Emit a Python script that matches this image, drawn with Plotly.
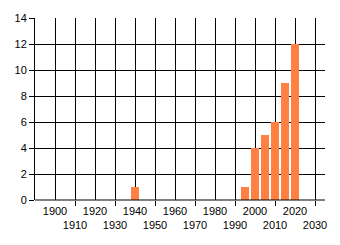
import plotly.graph_objects as go

years = [1940, 1995, 2000, 2005, 2010, 2015, 2020]
counts = [1, 1, 4, 5, 6, 9, 12]
x_tick_vals = list(range(1900, 2031, 10))
x_tick_text = [str(v) if i % 2 == 0 else "<br>" + str(v) for i, v in enumerate(x_tick_vals)]
y_tick_vals = list(range(0, 15, 2))

fig = go.Figure(go.Bar(x=years, y=counts, width=4, marker=dict(color="#FF8040", line=dict(width=0))))

font = dict(family="Liberation Sans, Arial, sans-serif", size=11, color="#000000")
fig.update_layout(
    width=340, height=245,
    margin=dict(l=35, r=15, t=15, b=45),
    paper_bgcolor="white", plot_bgcolor="white",
    font=font, showlegend=False, bargap=0,
)
fig.update_xaxes(
    range=[1890, 2035], tickmode="array", tickvals=x_tick_vals, ticktext=x_tick_text,
    tickangle=0,
    showgrid=True, gridcolor="black", gridwidth=1, zeroline=False,
    showline=False, ticks="", ticklabelstandoff=3,
    minor=dict(tickmode="array", tickvals=x_tick_vals[1::2], ticks="outside", ticklen=5,
               tickcolor="black", tickwidth=1, showgrid=False),
    tickfont=font,
)
fig.update_yaxes(
    range=[0, 14], tickmode="array", tickvals=y_tick_vals,
    showgrid=True, gridcolor="black", gridwidth=1, zeroline=False,
    showline=True, linecolor="black", linewidth=1, mirror=False,
    ticks="outside", ticklen=5, tickcolor="black", tickwidth=1,
    tickfont=font,
)
fig.add_shape(type="line", xref="paper", yref="paper", x0=0, x1=1, y0=0, y1=0,
              line=dict(color="black", width=1), layer="above")
fig.write_html("out.html")
